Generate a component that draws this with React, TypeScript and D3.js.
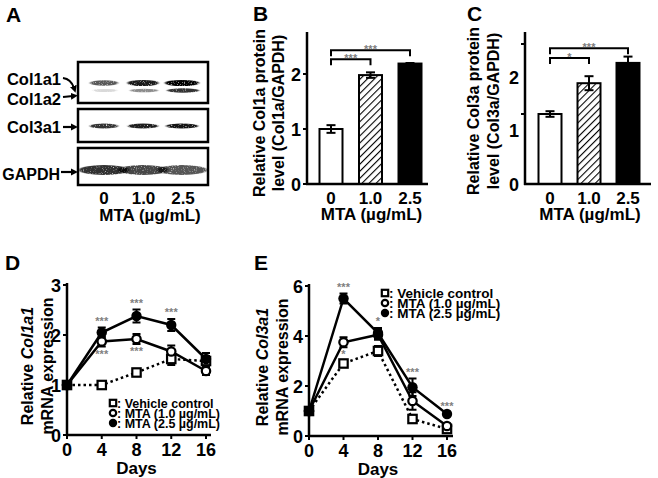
import React from 'react';
import * as d3 from 'd3';

const FONT = "'Liberation Sans', Arial, Helvetica, sans-serif";

// ---------- Panel A: western blot (relative band intensities) ----------
const blotLanes = ['0', '1.0', '2.5'];
const col1a1Intensity = [0.65, 0.9, 1.0];
const col1a2Intensity = [0.15, 0.45, 0.8];
const col3a1Intensity = [0.8, 0.88, 0.92];
const gapdhIntensity = [0.95, 0.85, 0.78];

// ---------- Panels B / C: protein levels ----------
const doseLabels = ['0', '1.0', '2.5'];
const col1aProtein = [1.0, 1.98, 2.19];
const col1aProteinErr = [0.07, 0.05, 0.01];
const col3aProtein = [1.0, 1.44, 1.73];
const col3aProteinErr = [0.04, 0.1, 0.09];

// ---------- Panels D / E: mRNA time course ----------
const days = [0, 4, 8, 12, 16];
const col1a1Vehicle = [1.0, 1.0, 1.25, 1.52, 1.48];
const col1a1VehicleErr = [0, 0.06, 0.06, 0.12, 0.1];
const col1a1Mta10 = [1.0, 1.87, 1.92, 1.67, 1.28];
const col1a1Mta10Err = [0, 0.1, 0.1, 0.12, 0.08];
const col1a1Mta25 = [1.0, 2.05, 2.38, 2.2, 1.52];
const col1a1Mta25Err = [0, 0.1, 0.13, 0.12, 0.12];

const col3a1Vehicle = [1.0, 2.9, 3.4, 0.68, 0.28];
const col3a1VehicleErr = [0, 0.1, 0.2, 0.1, 0.05];
const col3a1Mta10 = [1.0, 3.75, 4.05, 1.4, 0.4];
const col3a1Mta10Err = [0, 0.2, 0.2, 0.35, 0.08];
const col3a1Mta25 = [1.0, 5.5, 4.12, 1.95, 0.88];
const col3a1Mta25Err = [0, 0.2, 0.2, 0.35, 0.05];

const legendLabels = [': Vehicle control', ': MTA (1.0 \u00b5g/mL)', ': MTA (2.5 \u00b5g/mL)'];
const col1a1Stars = [
  { day: 4, text: '***', pos: 'above' },
  { day: 8, text: '***', pos: 'above' },
  { day: 12, text: '***', pos: 'above' },
  { day: 4, text: '***', pos: 'below' },
  { day: 8, text: '***', pos: 'below' },
];
const col3a1Stars = [
  { day: 4, text: '***', pos: 'above' },
  { day: 4, text: '*', pos: 'below' },
  { day: 8, text: '*', pos: 'above' },
  { day: 12, text: '***', pos: 'above' },
  { day: 16, text: '***', pos: 'above' },
];

const bold = { fontFamily: FONT, fontWeight: 700 } as const;

function Arrow({ d }: { d: string }) {
  return <path d={d} fill="none" stroke="#000" strokeWidth={2.2} markerEnd="url(#arrowhead)" />;
}

function PanelA() {
  const lane = d3.scalePoint<string>().domain(blotLanes).range([104, 182]);
  const labelX = d3.scalePoint<string>().domain(blotLanes).range([104, 183]);
  const boxes = [
    { y: 62, h: 41 },
    { y: 109, h: 33 },
    { y: 148, h: 37 },
  ];
  return (
    <g>
      <text x={6} y={22} fontSize={21} {...bold}>A</text>
      {boxes.map((b, i) => (
        <rect key={i} x={78} y={b.y} width={130} height={b.h} fill="#fff" stroke="#000" strokeWidth={2.5} />
      ))}
      <g filter="url(#grain)">
        {blotLanes.map((l, i) => (
          <g key={l}>
            <ellipse cx={lane(l)} cy={83} rx={14 + 1.5 * i} ry={2.2 + 0.9 * col1a1Intensity[i]} fill="#000" opacity={col1a1Intensity[i]} />
            <ellipse cx={lane(l)! + 1} cy={90.5} rx={12 + 2 * i} ry={1.5 + 0.8 * col1a2Intensity[i]} fill="#000" opacity={col1a2Intensity[i]} />
            <ellipse cx={lane(l)} cy={126} rx={14 + i} ry={2.6} fill="#000" opacity={col3a1Intensity[i]} />
            <ellipse cx={lane(l)} cy={170} rx={25} ry={5} fill="#000" opacity={0.85 * gapdhIntensity[i]} />
          </g>
        ))}
      </g>
      <text x={61} y={85} fontSize={16.5} textAnchor="end" {...bold}>Col1a1</text>
      <text x={61} y={105} fontSize={16.5} textAnchor="end" {...bold}>Col1a2</text>
      <text x={61} y={133} fontSize={16.5} textAnchor="end" {...bold}>Col3a1</text>
      <text x={60} y={180} fontSize={16} textAnchor="end" {...bold}>GAPDH</text>
      <Arrow d="M63,78 Q71,79 74,88" />
      <Arrow d="M63,97 L73,96" />
      <Arrow d="M63,127 L73,127" />
      <Arrow d="M61,172 L73,172" />
      {blotLanes.map((l) => (
        <text key={l} x={labelX(l)} y={204} fontSize={17} textAnchor="middle" {...bold}>{l}</text>
      ))}
      <text x={150} y={221} fontSize={17} textAnchor="middle" {...bold}>MTA (µg/mL)</text>
    </g>
  );
}

type Bracket = { from: number; to: number; level: number; text: string };

function BarPanel(props: {
  letter: string;
  letterX: number;
  axisX: number;
  axisEnd: number;
  centers: [number, number];
  y: d3.ScaleLinear<number, number>;
  yTop: number;
  tickValues: number[];
  labelY: d3.ScaleLinear<number, number>;
  values: number[];
  errs: number[];
  brackets: Bracket[];
  titleX: [number, number];
  titleLines: [string, string];
  titleY: number;
}) {
  const { y } = props;
  const x = d3.scalePoint<string>().domain(doseLabels).range(props.centers);
  const bw = 23;
  const y0 = y(0);
  return (
    <g>
      <text x={props.letterX} y={21} fontSize={21} {...bold}>{props.letter}</text>
      {props.titleLines.map((t, i) => (
        <text key={i} transform={`translate(${props.titleX[i]},${props.titleY}) rotate(-90)`} fontSize={16} textAnchor="middle" {...bold}>{t}</text>
      ))}
      {props.values.map((v, i) => {
        const cx = x(doseLabels[i])!;
        const fill = i === 0 ? '#fff' : i === 1 ? 'url(#hatch)' : '#000';
        const eTop = y(v + props.errs[i]);
        const eBot = y(v - props.errs[i]);
        return (
          <g key={i}>
            <rect x={cx - bw / 2} y={y(v)} width={bw} height={y0 - y(v)} fill={fill} stroke="#000" strokeWidth={2} />
            <line x1={cx} x2={cx} y1={eTop} y2={eBot} stroke="#000" strokeWidth={2} />
            <line x1={cx - 4.5} x2={cx + 4.5} y1={eTop} y2={eTop} stroke="#000" strokeWidth={2} />
            {i !== 2 && <line x1={cx - 4.5} x2={cx + 4.5} y1={eBot} y2={eBot} stroke="#000" strokeWidth={2} />}
          </g>
        );
      })}
      <line x1={props.axisX} x2={props.axisX} y1={props.yTop} y2={y0 + 1} stroke="#000" strokeWidth={2.5} />
      <line x1={props.axisX - 1} x2={props.axisEnd} y1={y0} y2={y0} stroke="#000" strokeWidth={2.5} />
      {props.tickValues.map((t) => (
        <line key={t} x1={props.axisX - 4} x2={props.axisX} y1={y(t)} y2={y(t)} stroke="#000" strokeWidth={2} />
      ))}
      {[0, 1, 2].map((t) => (
        <text key={t} x={props.axisX - 6} y={props.labelY(t) + 6.5} fontSize={18} textAnchor="end" {...bold}>{t}</text>
      ))}
      {doseLabels.map((d) => (
        <text key={d} x={x(d)} y={204} fontSize={17} textAnchor="middle" {...bold}>{d}</text>
      ))}
      <text x={(props.centers[0] + props.centers[1]) / 2 + 1} y={220} fontSize={17} textAnchor="middle" {...bold}>MTA (µg/mL)</text>
      {props.brackets.map((b, i) => {
        const xa = x(doseLabels[b.from])!;
        const xb = x(doseLabels[b.to])!;
        const by = y(b.level);
        return (
          <g key={i}>
            <path d={`M${xa},${by + 6} V${by} H${xb} V${by + 6}`} fill="none" stroke="#000" strokeWidth={2} />
            <text x={(xa + xb) / 2} y={by + 3} fontSize={11} textAnchor="middle" fill="#808080" {...bold}>{b.text}</text>
          </g>
        );
      })}
    </g>
  );
}

type Series = { values: number[]; errs: number[]; marker: 'square' | 'open' | 'filled'; dotted: boolean };

function Marker({ kind, x, y, s }: { kind: string; x: number; y: number; s: number }) {
  if (kind === 'square')
    return <rect x={x - s} y={y - s} width={2 * s} height={2 * s} fill="#fff" stroke="#000" strokeWidth={2.2} />;
  if (kind === 'open') return <circle cx={x} cy={y} r={s} fill="#fff" stroke="#000" strokeWidth={2.2} />;
  return <circle cx={x} cy={y} r={s + 1} fill="#000" />;
}

function LinePanel(props: {
  letter: string;
  letterX: number;
  x: d3.ScaleLinear<number, number>;
  y: d3.ScaleLinear<number, number>;
  yTicks: number[];
  axisXEnd: number;
  series: Series[];
  stars: { day: number; text: string; pos: string }[];
  geneLabel: string;
  titleX: [number, number];
  legendX: number;
  legendY: number;
  legendStep: number;
  legendFont: number;
}) {
  const { x, y } = props;
  const line = d3
    .line<number>()
    .x((_, i) => x(days[i]))
    .y((d) => y(d));
  const [ylo, yhi] = y.domain();
  const titleY = (y(ylo) + y(yhi)) / 2 + 6;
  const mta10 = props.series[1];
  const mta25 = props.series[2];
  return (
    <g>
      <text x={props.letterX} y={270} fontSize={21} {...bold}>{props.letter}</text>
      <text transform={`translate(${props.titleX[0]},${titleY}) rotate(-90)`} fontSize={16} textAnchor="middle" {...bold}>
        Relative <tspan fontStyle="italic">{props.geneLabel}</tspan>
      </text>
      <text transform={`translate(${props.titleX[1]},${titleY}) rotate(-90)`} fontSize={16} textAnchor="middle" {...bold}>
        mRNA expression
      </text>
      {/* axes */}
      <line x1={x(0)} x2={x(0)} y1={y(yhi) - 2} y2={y(ylo) + 1} stroke="#000" strokeWidth={2.5} />
      <line x1={x(0) - 1} x2={props.axisXEnd} y1={y(ylo)} y2={y(ylo)} stroke="#000" strokeWidth={2.5} />
      {props.yTicks.map((t) => (
        <g key={t}>
          <line x1={x(0) - 4} x2={x(0)} y1={y(t)} y2={y(t)} stroke="#000" strokeWidth={2} />
          <text x={x(0) - 6} y={y(t) + 6.5} fontSize={18} textAnchor="end" {...bold}>{t}</text>
        </g>
      ))}
      {days.map((d) => (
        <g key={d}>
          <line x1={x(d)} x2={x(d)} y1={y(ylo)} y2={y(ylo) + 4} stroke="#000" strokeWidth={2} />
          <text x={x(d)} y={y(ylo) + 21} fontSize={18} textAnchor="middle" {...bold}>{d}</text>
        </g>
      ))}
      <text x={x(8)} y={y(ylo) + 39} fontSize={17} textAnchor="middle" {...bold}>Days</text>
      {/* lines */}
      {props.series.map((s, i) => (
        <path key={i} d={line(s.values)!} fill="none" stroke="#000" strokeWidth={2.5} strokeDasharray={s.dotted ? '2.5,3' : undefined} />
      ))}
      {/* error bars */}
      {props.series.map((s, i) =>
        s.values.map((v, j) =>
          s.errs[j] > 0 ? (
            <g key={`${i}-${j}`} stroke="#000" strokeWidth={2}>
              <line x1={x(days[j])} x2={x(days[j])} y1={y(v + s.errs[j])} y2={y(v - s.errs[j])} />
              <line x1={x(days[j]) - 4} x2={x(days[j]) + 4} y1={y(v + s.errs[j])} y2={y(v + s.errs[j])} />
              <line x1={x(days[j]) - 4} x2={x(days[j]) + 4} y1={y(v - s.errs[j])} y2={y(v - s.errs[j])} />
            </g>
          ) : null
        )
      )}
      {props.series.map((s, i) =>
        s.values.map((v, j) => <Marker key={`${i}-${j}`} kind={s.marker} x={x(days[j])} y={y(v)} s={4.2} />)
      )}
      {props.stars.map((st, i) => {
        const j = days.indexOf(st.day);
        const yy =
          st.pos === 'above'
            ? y(mta25.values[j] + mta25.errs[j]) - 3
            : y(mta10.values[j] - mta10.errs[j]) + 11;
        return (
          <text key={i} x={x(st.day)} y={yy} fontSize={11} textAnchor="middle" fill="#808080" {...bold}>{st.text}</text>
        );
      })}
      {/* legend */}
      {props.series.map((s, i) => {
        const ly = props.legendY + i * props.legendStep;
        return (
          <g key={i}>
            <Marker kind={s.marker} x={props.legendX} y={ly} s={3.2} />
            <text x={props.legendX + 4} y={ly + props.legendFont * 0.36} fontSize={props.legendFont} {...bold}>{legendLabels[i]}</text>
          </g>
        );
      })}
    </g>
  );
}

export default function App() {
  const yB = d3.scaleLinear().domain([0, 2]).range([184, 74]);
  const yC = d3.scaleLinear().domain([0, 2]).range([184, 44]);
  const yCLabels = d3.scaleLinear().domain([0, 2]).range([184, 77]);

  const xD = d3.scaleLinear().domain([0, 16]).range([67, 206]);
  const yD = d3.scaleLinear().domain([0, 3]).range([435, 285]);
  const xE = d3.scaleLinear().domain([0, 16]).range([309, 447]);
  const yE = d3.scaleLinear().domain([0, 6]).range([436, 286]);

  return (
    <svg width={658} height={478} style={{ position: 'absolute', left: 0, top: 0, background: '#fff' }}>
      <defs>
        <pattern id="hatch" width={5} height={5} patternUnits="userSpaceOnUse" patternTransform="rotate(45)">
          <rect width={5} height={5} fill="#fff" />
          <line x1={0} y1={0} x2={0} y2={5} stroke="#000" strokeWidth={2.2} />
        </pattern>
        <marker id="arrowhead" viewBox="0 0 10 10" refX={3} refY={5} markerWidth={3.2} markerHeight={3.2} orient="auto">
          <path d="M0,0 L10,5 L0,10 z" fill="#000" />
        </marker>
        <filter id="grain" x="-20%" y="-80%" width="140%" height="260%">
          <feGaussianBlur in="SourceGraphic" stdDeviation="1.2 0.7" result="b" />
          <feTurbulence type="fractalNoise" baseFrequency="0.9" numOctaves={2} seed={4} result="n" />
          <feColorMatrix in="n" type="matrix" values="0 0 0 0 0  0 0 0 0 0  0 0 0 0 0  0 0 0 3 -0.3" result="m" />
          <feComposite in="b" in2="m" operator="in" />
        </filter>
      </defs>
      <rect width={658} height={478} fill="#fff" />
      <PanelA />
      <BarPanel
        letter="B"
        letterX={253}
        axisX={307}
        axisEnd={428}
        centers={[331, 410]}
        y={yB}
        yTop={32}
        tickValues={[0, 1, 2]}
        labelY={yB}
        values={col1aProtein}
        errs={col1aProteinErr}
        brackets={[
          { from: 0, to: 1, level: 2.27, text: '***' },
          { from: 0, to: 2, level: 2.43, text: '***' },
        ]}
        titleX={[265, 284]}
        titleLines={['Relative Col1a protein', 'level (Col1a/GAPDH)']}
        titleY={113}
      />
      <BarPanel
        letter="C"
        letterX={467}
        axisX={525}
        axisEnd={651}
        centers={[550, 628]}
        y={yC}
        yTop={32}
        tickValues={[1, 2]}
        labelY={yCLabels}
        values={col3aProtein}
        errs={col3aProteinErr}
        brackets={[
          { from: 0, to: 1, level: 1.8, text: '*' },
          { from: 0, to: 2, level: 1.94, text: '***' },
        ]}
        titleX={[479, 499]}
        titleLines={['Relative Col3a protein', 'level (Col3a/GAPDH)']}
        titleY={111}
      />
      <LinePanel
        letter="D"
        letterX={5}
        x={xD}
        y={yD}
        yTicks={[0, 1, 2, 3]}
        axisXEnd={211}
        series={[
          { values: col1a1Vehicle, errs: col1a1VehicleErr, marker: 'square', dotted: true },
          { values: col1a1Mta10, errs: col1a1Mta10Err, marker: 'open', dotted: false },
          { values: col1a1Mta25, errs: col1a1Mta25Err, marker: 'filled', dotted: false },
        ]}
        stars={col1a1Stars}
        geneLabel="Col1a1"
        titleX={[33, 53]}
        legendX={113}
        legendY={403}
        legendStep={10}
        legendFont={12.5}
      />
      <LinePanel
        letter="E"
        letterX={254}
        x={xE}
        y={yE}
        yTicks={[0, 2, 4, 6]}
        axisXEnd={453}
        series={[
          { values: col3a1Vehicle, errs: col3a1VehicleErr, marker: 'square', dotted: true },
          { values: col3a1Mta10, errs: col3a1Mta10Err, marker: 'open', dotted: false },
          { values: col3a1Mta25, errs: col3a1Mta25Err, marker: 'filled', dotted: false },
        ]}
        stars={col3a1Stars}
        geneLabel="Col3a1"
        titleX={[268, 288]}
        legendX={385}
        legendY={293}
        legendStep={10}
        legendFont={13.5}
      />
    </svg>
  );
}
